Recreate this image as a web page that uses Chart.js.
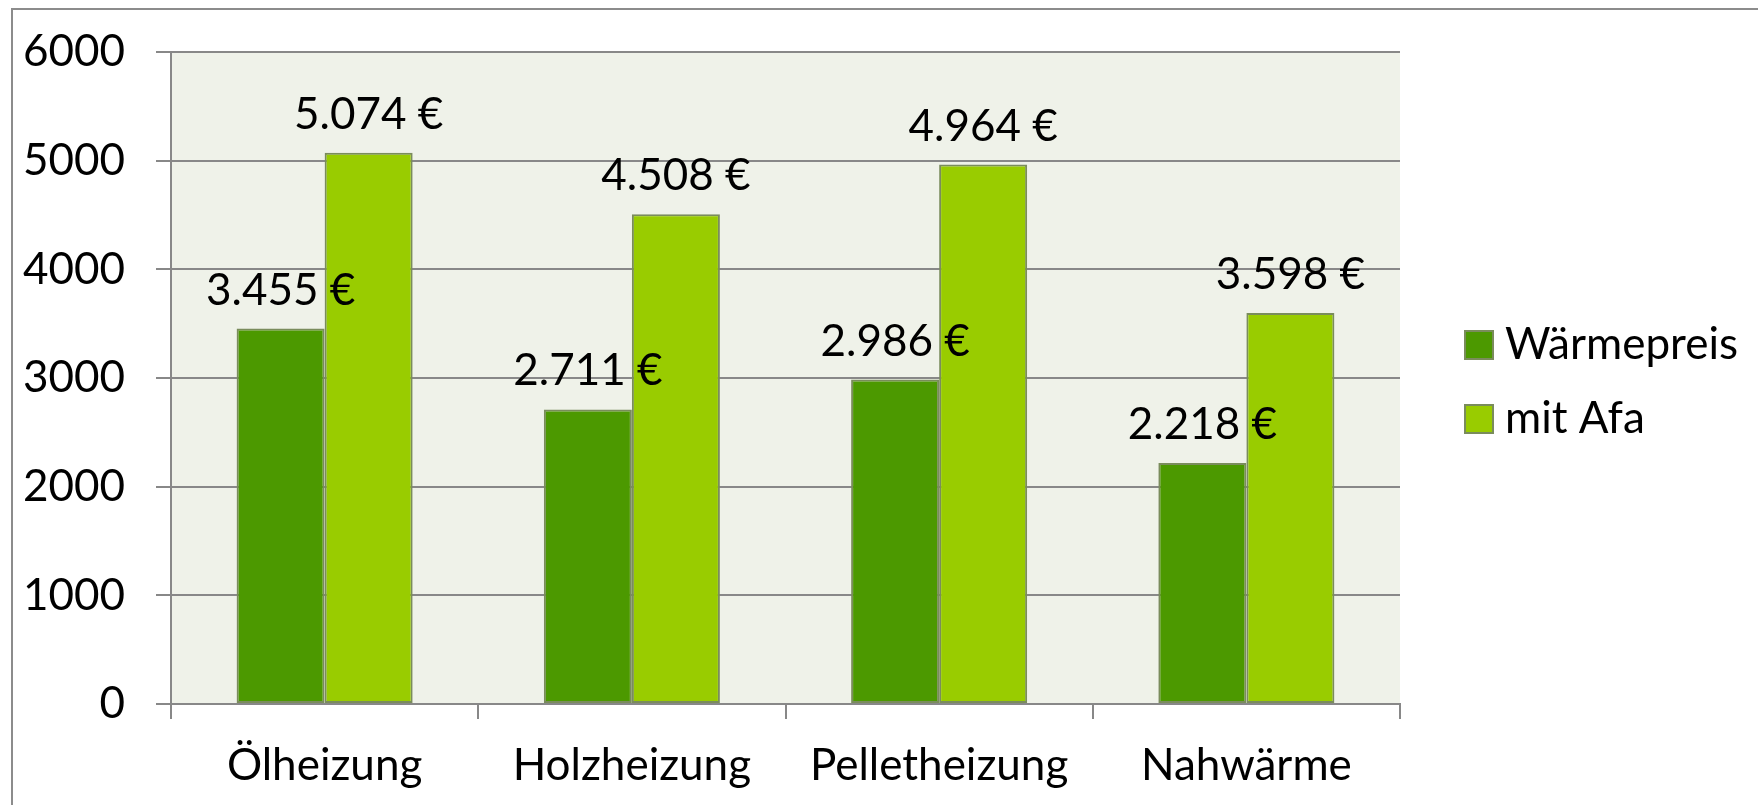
<!DOCTYPE html>
<html lang="de">
<head>
<meta charset="utf-8">
<title>Wärmepreis</title>
<script src="https://cdn.jsdelivr.net/npm/chart.js@4.4.1/dist/chart.umd.min.js"></script>
<style>
  html, body { margin: 0; padding: 0; background: #fff; }
  #wrap { position: relative; width: 1758px; height: 805px; overflow: hidden; }
  #frame {
    position: absolute; left: 11px; top: 8px; width: 1800px; height: 900px;
    border: 2px solid #8c8c8c; box-sizing: border-box; pointer-events: none;
  }
</style>
</head>
<body>
<div id="wrap">
  <canvas id="chart"></canvas>
  <div id="frame"></div>
</div>
<script>
// ===== DATOS =====
const categories = ['Ölheizung', 'Holzheizung', 'Pelletheizung', 'Nahwärme'];
const seriesNames = ['Wärmepreis', 'mit Afa'];
const waermepreis = [3455, 2711, 2986, 2218];
const mitAfa = [5074, 4508, 4964, 3598];
const yTicks = [0, 1000, 2000, 3000, 4000, 5000, 6000];

const FONT = 'Lato, "Open Sans", sans-serif';
const FONT_SIZE = 44;
const GRID = '#888888';

// 5074 -> "5.074 €"
function euro(v) {
    const s = String(Math.round(v));
    return s.replace(/\B(?=(\d{3})+(?!\d))/g, '.') + ' €';
}

// fondo del área de trazado
const plotBackground = {
    id: 'plotBackground',
    beforeDraw(chart) {
        const { ctx, chartArea: a } = chart;
        ctx.save();
        ctx.fillStyle = '#eff2e9';
        ctx.fillRect(a.left, a.top, a.right - a.left, a.bottom - a.top);
        ctx.restore();
    }
};

// etiquetas de valor encima de cada barra
const valueLabels = {
    id: 'valueLabels',
    afterDatasetsDraw(chart) {
        const ctx = chart.ctx;
        ctx.save();
        ctx.font = `${FONT_SIZE}px ${FONT}`;
        ctx.fillStyle = '#000';
        ctx.textAlign = 'center';
        ctx.textBaseline = 'alphabetic';
        chart.data.datasets.forEach((ds, i) => {
            chart.getDatasetMeta(i).data.forEach((bar, j) => {
                ctx.fillText(euro(ds.data[j]), bar.x, bar.y - 24);
            });
        });
        ctx.restore();
    }
};

// leyenda a la derecha, como en Excel
const sideLegend = {
    id: 'sideLegend',
    afterDraw(chart) {
        const { ctx, chartArea: a } = chart;
        const mid = (a.top + a.bottom) / 2 + 4;
        const rowGap = 74;
        const box = 28;
        const x = a.right + 65;
        ctx.save();
        ctx.font = `${FONT_SIZE}px ${FONT}`;
        ctx.textAlign = 'left';
        ctx.textBaseline = 'middle';
        chart.data.datasets.forEach((ds, i) => {
            const cy = mid + (i - 0.5) * rowGap;
            ctx.fillStyle = ds.backgroundColor;
            ctx.fillRect(x, cy - box / 2, box, box);
            ctx.strokeStyle = ds.borderColor;
            ctx.lineWidth = 2;
            ctx.strokeRect(x, cy - box / 2, box, box);
            ctx.fillStyle = '#000';
            ctx.fillText(ds.label, x + box + 12, cy);
        });
        ctx.restore();
    }
};

const ctx = document.getElementById('chart').getContext('2d');
const chart = new Chart(ctx, {
    type: 'bar',
    data: {
        labels: categories,
        datasets: [{
            label: seriesNames[0],
            data: waermepreis,
            backgroundColor: '#4c9900',
            borderColor: '#7a8c5c',
            borderWidth: 2,
            borderSkipped: false
        }, {
            label: seriesNames[1],
            data: mitAfa,
            backgroundColor: '#99cc00',
            borderColor: '#7a8c5c',
            borderWidth: 2,
            borderSkipped: false
        }]
    },
    options: {
        responsive: true,
        maintainAspectRatio: false,
        animation: false,
        devicePixelRatio: 1,
        categoryPercentage: 0.573,
        barPercentage: 1.0,
        layout: {
            padding: { top: 52, right: 358, bottom: 0, left: 0 }
        },
        font: { family: FONT, size: FONT_SIZE },
        color: '#000',
        scales: {
            x: {
                grid: {
                    offset: true,
                    drawOnChartArea: false,
                    drawTicks: true,
                    tickLength: 15,
                    color: GRID,
                    lineWidth: 2
                },
                border: { display: true, color: GRID, width: 2 },
                ticks: {
                    color: '#000',
                    padding: 20,
                    maxRotation: 0,
                    font: { family: FONT, size: FONT_SIZE }
                },
                afterFit(scale) { scale.height = 101; }
            },
            y: {
                min: yTicks[0],
                max: yTicks[yTicks.length - 1],
                grid: {
                    color: GRID,
                    lineWidth: 2,
                    drawTicks: true,
                    tickLength: 15
                },
                border: { display: true, color: GRID, width: 2 },
                afterBuildTicks(scale) {
                    scale.ticks = yTicks.map(v => ({ value: v }));
                },
                ticks: {
                    color: '#000',
                    padding: 31,
                    font: { family: FONT, size: FONT_SIZE },
                    callback: v => String(v)
                },
                afterFit(scale) {
                    // ancho fijo y sin margen extra arriba/abajo
                    scale.width = 171;
                    scale.paddingTop = 0;
                    scale.paddingBottom = 0;
                }
            }
        },
        plugins: {
            legend: { display: false },
            tooltip: { enabled: false }
        }
    },
    plugins: [plotBackground, valueLabels, sideLegend]
});
</script>
</body>
</html>
